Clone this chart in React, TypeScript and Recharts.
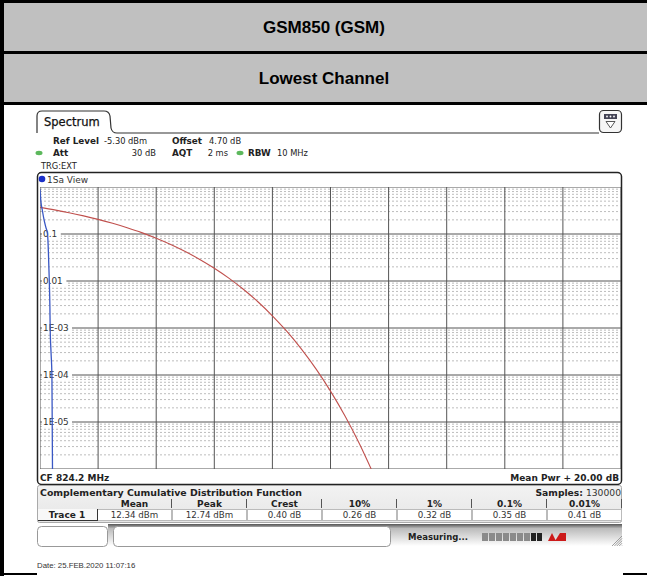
import React from 'react';
import { LineChart, Line, XAxis, YAxis, ReferenceLine } from 'recharts';

// ---------- data ----------
const xTicks = [0, 2, 4, 6, 8, 10, 12, 14, 16, 18, 20];
const decades = [1e-6, 1e-5, 1e-4, 1e-3, 1e-2, 1e-1, 1];
const decadeLabels = ['', '1E-05', '1E-04', '1E-03', '0.01', '0.1', ''];
const minorSteps = [2, 3, 4, 5, 6, 7, 8, 9];

// Gaussian reference curve (red)
const refX = [0, 0.5, 1, 1.5, 2, 2.5, 3, 3.5, 4, 4.5, 5, 5.5, 6, 6.5, 7, 7.5, 8, 8.5, 9, 9.5, 10, 10.5, 11, 11.4];
const refP = [0.368, 0.326, 0.284, 0.243, 0.205, 0.169, 0.136, 0.107, 0.081, 0.0597, 0.0423, 0.0288, 0.0187, 0.0115,
  0.00666, 0.00362, 0.00182, 0.000843, 0.000355, 0.000135, 0.0000454, 0.0000134, 0.0000034, 0.000001];

// Measured trace 1 (blue)
const traceX = [0, 0.03, 0.08, 0.14, 0.2, 0.26, 0.29, 0.32, 0.34, 0.35, 0.38, 0.41, 0.42, 0.43];
const traceP = [0.9, 0.5, 0.32, 0.2, 0.14, 0.1, 0.04, 0.01, 0.003, 0.001, 0.0003, 0.0001, 0.00001, 0.000001];

const tableHeaders = ['Mean', 'Peak', 'Crest', '10%', '1%', '0.1%', '0.01%'];
const tableValues = ['12.34 dBm', '12.74 dBm', '0.40 dB', '0.26 dB', '0.32 dB', '0.35 dB', '0.41 dB'];

const titleText = 'GSM850 (GSM)';
const subtitleText = 'Lowest Channel';
const dateText = 'Date: 25.FEB.2020  11:07:16';

// ---------- styles ----------
const UI = "'DejaVu Sans', Verdana, sans-serif";
const ARIAL = "'Liberation Sans', Arial, sans-serif";
const refData = refX.map((x, i) => ({ x, p: refP[i] }));
const traceData = traceX.map((x, i) => ({ x, p: traceP[i] }));
const minorValues: number[] = [];
decades.slice(0, -1).forEach((d) => minorSteps.forEach((m) => minorValues.push(d * m)));

const makeYLabel = (text: string) => (props: any) => {
  const vb = props.viewBox || {};
  const x = (vb.x ?? 0) + 3;
  const y = vb.y ?? 0;
  if (!text) return null;
  return (
    <g>
      <rect x={x - 1} y={y - 5} width={text.length * 5.6 + 2} height={10} fill="#fff" />
      <text x={x} y={y + 3.3} fontSize={8.9} fontFamily={UI} fill="#333">{text}</text>
    </g>
  );
};

const colLeft = 97;
const colW = 75;

export default function App() {
  return (
    <div style={{ position: 'absolute', left: 0, top: 0, width: 647, height: 576, overflow: 'hidden', background: '#fff' }}>
      <svg width={647} height={576} style={{ position: 'absolute', left: 0, top: 0 }}>
        <defs>
          <linearGradient id="statusGrad" x1="0" y1="0" x2="0" y2="1">
            <stop offset="0" stopColor="#555" />
            <stop offset="0.2" stopColor="#bbb" />
            <stop offset="1" stopColor="#fff" />
          </linearGradient>
          <linearGradient id="tableGrad" x1="0" y1="0" x2="0" y2="1">
            <stop offset="0" stopColor="#f2f2f2" />
            <stop offset="1" stopColor="#e6e6e6" />
          </linearGradient>
        </defs>
        {/* Title rows */}
        <rect x={0} y={0} width={647} height={105} fill="#c0c0c0" />
        <rect x={0} y={0} width={647} height={3} fill="#000" />
        <rect x={0} y={51} width={647} height={3} fill="#000" />
        <rect x={0} y={102} width={647} height={3} fill="#000" />
        <rect x={0} y={0} width={4} height={576} fill="#000" />
        <rect x={0} y={573} width={37} height={2} fill="#000" />
        <rect x={623} y={573} width={24} height={2} fill="#000" />
        <text x={324} y={33} textAnchor="middle" fontFamily={ARIAL} fontWeight="bold" fontSize={17} fill="#000">{titleText}</text>
        <text x={324} y={84} textAnchor="middle" fontFamily={ARIAL} fontWeight="bold" fontSize={17} fill="#000">{subtitleText}</text>

        {/* Spectrum tab */}
        <path d="M37,133 L37,116 Q37,111 42,111 L104,111 Q109,111 110,116 L111,128 Q112,133 117,133 L599,133" stroke="#333" strokeWidth={1.2} fill="none" />
        <text x={44} y={126} fontFamily={UI} fontSize={11.5} fill="#111" stroke="#111" strokeWidth={0.25}>Spectrum</text>
        <rect x={599.5} y={110.5} width={22} height={22} rx={4} stroke="#333" strokeWidth={1.2} fill="#f6f6f6" />
        <rect x={604} y={114} width={13} height={5} fill="#445" />
        <circle cx={607} cy={116.5} r={0.9} fill="#fff" />
        <circle cx={610.5} cy={116.5} r={0.9} fill="#fff" />
        <circle cx={614} cy={116.5} r={0.9} fill="#fff" />
        <path d="M606,121.5 L615,121.5 L610.5,128 Z" stroke="#444" strokeWidth={0.9} fill="#fff" />

        {/* Settings */}
        <g fontFamily={UI} fontSize={8.3} fill="#222">
          <text x={53} y={144} fontWeight="bold" fontSize={8.8}>Ref Level</text>
          <text x={104} y={144}>-5.30 dBm</text>
          <text x={172} y={144} fontWeight="bold" fontSize={8.8}>Offset</text>
          <text x={209} y={144}>4.70 dB</text>
          <ellipse cx={39} cy={153} rx={3.5} ry={2.2} fill="#5cb85c" />
          <text x={53} y={156} fontWeight="bold" fontSize={8.8}>Att</text>
          <text x={156} y={156} textAnchor="end">30 dB</text>
          <text x={172} y={156} fontWeight="bold" fontSize={8.8}>AQT</text>
          <text x={228} y={156} textAnchor="end">2 ms</text>
          <ellipse cx={240} cy={153} rx={3.5} ry={2.2} fill="#5cb85c" />
          <text x={248} y={156} fontWeight="bold" fontSize={8.8}>RBW</text>
          <text x={277} y={156}>10 MHz</text>
          <text x={41} y={169}>TRG:EXT</text>
        </g>

        {/* Plot frame */}
        <rect x={37.5} y={172.5} width={584} height={312} rx={4} stroke="#222" strokeWidth={1.5} fill="#fff" />
        <circle cx={42} cy={179} r={3.3} fill="#1a2fc8" />
        <text x={47} y={182.5} fontFamily={UI} fontSize={9} fill="#333">1Sa View</text>
        <text x={40} y={480.5} fontFamily={UI} fontSize={9} fontWeight="bold" fill="#222">CF 824.2 MHz</text>
        <text x={619} y={480.5} textAnchor="end" fontFamily={UI} fontSize={9} fontWeight="bold" fill="#222">Mean Pwr + 20.00 dB</text>

        {/* Table */}
        <rect x={37.5} y={485.5} width={584} height={37} rx={2} stroke="#aaa" strokeWidth={1} fill="url(#tableGrad)" />
        <text x={40} y={495.5} fontFamily={UI} fontSize={9.4} fontWeight="bold" fill="#222">Complementary Cumulative Distribution Function</text>
        <text x={621} y={495.5} textAnchor="end" fontFamily={UI} fontSize={9.2} fill="#333">
          <tspan fontWeight="bold" fill="#222">Samples:</tspan> 130000
        </text>
        <rect x={38} y={509} width={59} height={12} fill="#f8f8f8" />
        <line x1={38} y1={520.5} x2={97} y2={520.5} stroke="#333" strokeWidth={1} />
        <text x={67} y={518} textAnchor="middle" fontFamily={UI} fontSize={9} fontWeight="bold" fill="#222">Trace 1</text>
        {tableHeaders.map((h, i) => (
          <g key={h}>
            <text x={colLeft + colW * i + colW / 2} y={507} textAnchor="middle" fontFamily={UI} fontSize={9} fontWeight="bold" fill="#222">{h}</text>
            <line x1={colLeft + colW * (i + 1) - 0.5} y1={499} x2={colLeft + colW * (i + 1) - 0.5} y2={508} stroke="#555" strokeWidth={1} />
            <rect x={colLeft + colW * i + 0.5} y={509.5} width={colW - 1} height={11} fill="#fff" stroke="#bbb" strokeWidth={1} />
            <text x={colLeft + colW * i + colW / 2} y={518} textAnchor="middle" fontFamily={UI} fontSize={8.7} fill="#333">{tableValues[i]}</text>
          </g>
        ))}
        <line x1={97.5} y1={509} x2={97.5} y2={521} stroke="#333" strokeWidth={1} />

        {/* Status bar */}
        <rect x={108} y={524} width={514} height={22} fill="url(#statusGrad)" />
        <rect x={37.5} y={526.5} width={70} height={20} rx={4} fill="#fff" stroke="#999" />
        <rect x={113.5} y={526.5} width={277} height={20} rx={4} fill="#fff" stroke="#999" />
        <text x={408} y={540} fontFamily={UI} fontSize={8.5} fontWeight="bold" fill="#222">Measuring...</text>
        {[0, 1, 2, 3, 4, 5, 6].map((k) => (
          <rect key={k} x={482 + k * 7} y={533} width={6} height={8} fill="#8a8a8a" />
        ))}
        <rect x={531} y={533} width={5} height={8} fill="#222" />
        <rect x={537} y={533} width={5} height={8} fill="#222" />
        <path d="M548,541 L552,533 L556,541 Z M555,541 L560,533 L566,533 L566,541 Z" fill="#cc1a1a" />
        {[0, 1, 2, 3, 4].map((k) => (
          <line key={k} x1={612 + k * 2.4} y1={546} x2={622} y2={536 + k * 2.4} stroke="#888" strokeWidth={0.8} />
        ))}

        <text x={37} y={568} fontFamily={ARIAL} fontSize={7.8} fill="#333">{dateText}</text>
      </svg>

      <div style={{ position: 'absolute', left: 40, top: 187 }}>
        <LineChart width={581} height={282} margin={{ top: 0, right: 0, bottom: 0, left: 0 }}>
          <XAxis type="number" dataKey="x" domain={[0, 20]} ticks={xTicks} hide allowDataOverflow />
          <YAxis type="number" dataKey="p" scale="log" domain={[1e-6, 1]} ticks={decades} hide allowDataOverflow />
          {minorValues.map((v) => (
            <ReferenceLine key={'m' + v} y={v} stroke="#bdbdbd" strokeWidth={1} strokeDasharray="2 2" />
          ))}
          {xTicks.map((v) => (
            <ReferenceLine key={'x' + v} x={v} stroke="#555" strokeWidth={1} />
          ))}
          {decades.map((v, i) => (
            <ReferenceLine key={'d' + v} y={v} stroke="#555" strokeWidth={1} label={makeYLabel(decadeLabels[i])} />
          ))}
          <Line data={refData} dataKey="p" type="monotone" stroke="#c0504d" strokeWidth={1.1} dot={false} isAnimationActive={false} />
          <Line data={traceData} dataKey="p" type="monotone" stroke="#3a58c4" strokeWidth={1.3} dot={false} isAnimationActive={false} />
        </LineChart>
      </div>
    </div>
  );
}
